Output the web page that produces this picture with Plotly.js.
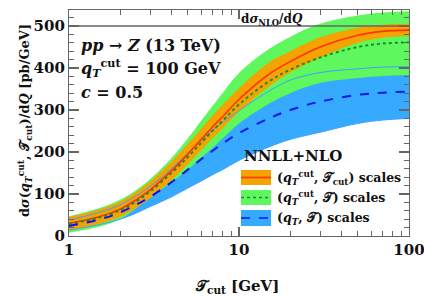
<!DOCTYPE html>
<html>
<head>
<meta charset="utf-8">
<script src="https://cdn.plot.ly/plotly-3.0.1.min.js"></script>
<style>html,body{margin:0;padding:0;background:#fff;}#chart{width:424px;height:298px;}</style>
</head>
<body>
<div id="chart"></div>
<script>
// x values (T_cut in GeV)
const tcut = [1, 1.5, 2, 2.5, 3, 4, 5, 6, 7, 8, 10, 15, 20, 30, 50, 70, 100];
// (qT^cut, Tcut) scales: central, low, high
const orangeMid = [30, 46, 64, 87, 110, 155, 195, 230, 260, 284, 325, 385, 415, 450, 478, 487, 490];
const orangeLo  = [12, 29, 46, 68, 90, 133, 171, 204, 233, 256, 296, 356, 389, 425, 460, 472, 476];
const orangeHi  = [45, 63, 82, 106, 130, 177, 219, 256, 287, 312, 352, 413, 440, 473, 496, 503, 505];
// (qT^cut, T) scales
const greenMid = [28, 44, 61, 83, 106, 150, 188, 222, 251, 274, 313, 368, 396, 425, 450, 458, 461];
const greenLo  = [8, 22, 40, 67, 92, 128, 158, 186, 210, 232, 268, 315, 340, 364, 376, 381, 383];
const greenHi  = [47, 66, 86, 110, 135, 185, 232, 275, 310, 340, 388, 445, 474, 505, 525, 532, 535];
// (qT, T) scales
const blueMid = [24, 39, 56, 75, 93, 128, 158, 183, 203, 220, 245, 280, 300, 320, 336, 341, 344];
const blueLo  = [14, 27, 40, 55, 70, 93, 114, 131, 146, 158, 180, 212, 230, 247, 268, 276, 280];
const blueHi  = [38, 56, 74, 96, 118, 160, 198, 228, 252, 270, 298, 345, 371, 389, 398, 402, 403];
// NLO reference value
const nloValue = 500;
const xTickVals = [1, 10, 100];
const xTickText = ['1', '10', '100'];
const xMinor = [2,3,4,5,6,7,8,9,20,30,40,50,60,70,80,90];
const yTickVals = [0, 100, 200, 300, 400, 500];

const cOrange = '#f5a300', cGreen = '#5ef75e', cBlue = '#36aaff';
const cRed = '#ff3300', cDkGreen = '#1e8c1e', cDkBlue = '#0a14f0', cThin = '#3fa0ff';
const edge = {width: 0, shape: 'spline'};
const traces = [
  {x: tcut, y: blueLo, mode: 'lines', line: edge},
  {x: tcut, y: blueHi, mode: 'lines', line: edge, fill: 'tonexty', fillcolor: cBlue},
  {x: tcut, y: greenLo, mode: 'lines', line: edge},
  {x: tcut, y: greenHi, mode: 'lines', line: edge, fill: 'tonexty', fillcolor: cGreen},
  {x: tcut, y: orangeLo, mode: 'lines', line: edge},
  {x: tcut, y: orangeHi, mode: 'lines', line: edge, fill: 'tonexty', fillcolor: cOrange},
  {x: tcut, y: blueHi, mode: 'lines', line: {color: cThin, width: 1, shape: 'spline'}},
  {x: tcut, y: blueLo, mode: 'lines', line: {color: cThin, width: 1, shape: 'spline'}},
  {x: tcut, y: orangeMid, mode: 'lines', line: {color: cRed, width: 1.6, shape: 'spline'}},
  {x: tcut, y: greenMid, mode: 'lines', line: {color: cDkGreen, width: 2, dash: 'dot', shape: 'spline'}},
  {x: tcut, y: blueMid, mode: 'lines', line: {color: cDkBlue, width: 2, dash: 'dash', shape: 'spline'}},
  {x: [tcut[0], tcut[tcut.length-1]], y: [nloValue, nloValue], xaxis: 'x2', yaxis: 'y2', mode: 'lines', line: {color: '#666', width: 1.5}}
];
traces.forEach(t => { t.showlegend = false; t.hoverinfo = 'skip'; });

const F = '"DejaVu Serif", "Liberation Serif", serif';
const px2x = p => (p - 69) / 340;
const py2y = p => (236 - p) / 226;
const shapes = [];
const anns = [];
const txt = (x, y, text, size, xa, extra) => Object.assign({xref: 'paper', yref: 'paper', x: px2x(x), y: py2y(y), xanchor: xa || 'left', yanchor: 'middle', showarrow: false, text: text, font: {family: F, size: size, color: '#111', weight: 'bold'}}, extra || {});
const legendItems = [
  {label: '(<i>q</i><sub><i>T</i></sub><sup>cut</sup>, 𝒯<sub>cut</sub>) scales', fill: cOrange, line: cRed, dash: 'solid', y0: 170, y1: 185},
  {label: '(<i>q</i><sub><i>T</i></sub><sup>cut</sup>, 𝒯) scales', fill: cGreen, line: cDkGreen, dash: 'dot', y0: 190, y1: 205},
  {label: '(<i>q</i><sub><i>T</i></sub>, 𝒯) scales', fill: cBlue, line: cDkBlue, dash: 'dash', y0: 210, y1: 226}
];
legendItems.forEach(it => {
  shapes.push({type: 'rect', xref: 'paper', yref: 'paper', x0: px2x(241), x1: px2x(271), y0: py2y(it.y1), y1: py2y(it.y0), fillcolor: it.fill, line: {width: 0}});
  const ym = (it.y0 + it.y1) / 2;
  shapes.push({type: 'line', xref: 'paper', yref: 'paper', x0: px2x(241), x1: px2x(271), y0: py2y(ym), y1: py2y(ym), line: {color: it.line, width: 1.6, dash: it.dash}});
  anns.push(txt(275, ym, it.label, 12.5, 'left'));
});
anns.push(txt(242, 156, 'NNLL+NLO', 15, 'left'));
anns.push(txt(79, 45, '<i>pp</i> → <i>Z</i> (13 TeV)', 16, 'left'));
anns.push(txt(79, 68, '<i>q</i><sub><i>T</i></sub><sup>cut</sup> = 100 GeV', 16, 'left'));
anns.push(txt(79, 92, '<i>c</i> = 0.5', 16, 'left'));
anns.push(txt(272, 20, 'd<i>σ</i><sub>NLO</sub>/d<i>Q</i>', 12, 'center'));
// axis titles
anns.push(txt(24, 121, 'd<i>σ</i>(<i>q</i><sub><i>T</i></sub><sup>cut</sup>, 𝒯<sub>cut</sub>)/d<i>Q</i> [pb/GeV]', 13, 'center', {textangle: -90}));
anns.push(txt(237, 286, '𝒯<sub>cut</sub> [GeV]', 15, 'center'));

const lineCol = '#666';
const axCommon = {showline: true, linecolor: lineCol, linewidth: 1.1, mirror: 'ticks', ticks: 'inside', tickcolor: lineCol, tickwidth: 1.1, showgrid: false, zeroline: false,
  tickfont: {family: F, size: 15, color: '#111', weight: 'bold'}, ticklabeloverflow: 'allow'};
const layout = {
  width: 424, height: 298,
  margin: {l: 69, r: 15, t: 10, b: 62},
  paper_bgcolor: '#fff', plot_bgcolor: 'rgba(0,0,0,0)',
  showlegend: false,
  xaxis: Object.assign({}, axCommon, {type: 'log', range: [0, 2], tickmode: 'array', tickvals: xTickVals, ticktext: xTickText, ticklen: 9}),
  yaxis: Object.assign({}, axCommon, {range: [0, 538], tickmode: 'array', tickvals: yTickVals, ticklen: 10}),
  xaxis2: Object.assign({}, axCommon, {overlaying: 'x', anchor: 'y2', type: 'log', range: [0, 2], tickmode: 'array', tickvals: xMinor, ticklen: 5, showticklabels: false}),
  yaxis2: Object.assign({}, axCommon, {overlaying: 'y', anchor: 'x2', range: [0, 538], tickmode: 'linear', tick0: 0, dtick: 20, ticklen: 5, showticklabels: false}),
  shapes: shapes,
  annotations: anns
};
Plotly.newPlot('chart', traces, layout, {displayModeBar: false, staticPlot: true});
</script>
</body>
</html>
